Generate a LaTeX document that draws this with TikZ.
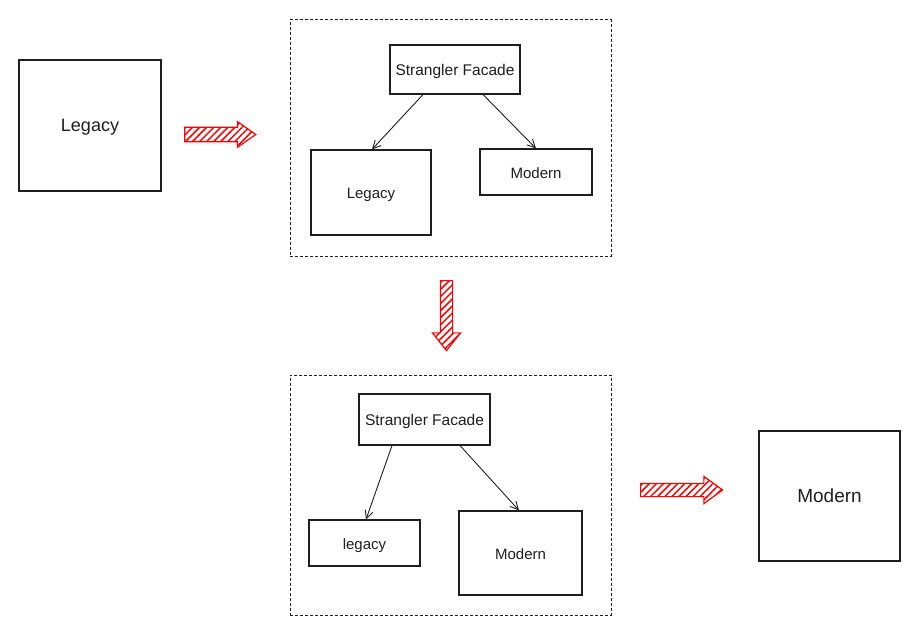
\documentclass[tikz,border=0pt]{standalone}
\usepackage{fontspec}
\setmainfont{Liberation Sans}
\usetikzlibrary{arrows.meta,shapes.arrows,patterns.meta}
\definecolor{ink}{HTML}{1E1E1E}
\begin{document}
\begin{tikzpicture}[x=1pt, y=-1pt,
    box/.style={draw=ink, line width=1.1pt, fill=white, text=ink, inner sep=0pt, text height=2.3ex, text depth=0pt},
    frame/.style={draw=ink, dashed, dash pattern=on 3pt off 2pt, line width=1pt},
    link/.style={draw=ink, line width=0.9pt, -{Straight Barb[length=8pt,width=8pt]}},
    flow/.style={single arrow, anchor=tail, draw=red, line width=1.2pt, inner xsep=0pt,
        pattern={Lines[angle=45,distance=5pt,line width=1.5pt]}, pattern color=red}]
    \useasboundingbox (0,0) rectangle (921,631);

    % first step: the whole legacy system
    \node[box, minimum width=142, minimum height=131, font=\fontsize{18}{21}\selectfont] (legacy) at (90,125.5) {Legacy};
    \node[flow, inner ysep=6.5pt, single arrow head extend=5.5pt, single arrow tip angle=70, minimum height=71] (flowA) at (184,134.5) {};

    % second step: facade in front of both
    \node[frame, minimum width=321, minimum height=236] (frameA) at (450.5,138) {};
    \node[box, minimum width=130, minimum height=49, font=\fontsize{15.5}{18}\selectfont] (sfA) at (455,69.5) {Strangler Facade};
    \node[box, minimum width=120, minimum height=85, font=\fontsize{15}{18}\selectfont] (legA) at (371,192.5) {Legacy};
    \node[box, minimum width=112, minimum height=46, font=\fontsize{15}{18}\selectfont] (modA) at (536,172) {Modern};
    \draw[link] ([xshift=-32pt]sfA.south) -- ([xshift=1pt]legA.north);
    \draw[link] ([xshift=28pt]sfA.south) -- (modA.north);

    \node[flow, rotate=-90, inner ysep=5.5pt, single arrow head extend=8pt, single arrow tip angle=77, minimum height=70] (flowB) at (446.5,280) {};

    % third step: legacy shrinks, modern grows
    \node[frame, minimum width=321, minimum height=240] (frameB) at (450.5,495) {};
    \node[box, minimum width=131, minimum height=51, font=\fontsize{15.5}{18}\selectfont] (sfB) at (424.5,419.5) {Strangler Facade};
    \node[box, minimum width=111, minimum height=46, font=\fontsize{15}{18}\selectfont] (legB) at (364.5,543) {legacy};
    \node[box, minimum width=123, minimum height=84, font=\fontsize{15}{18}\selectfont] (modB) at (520.5,553) {Modern};
    \draw[link] ([xshift=-32.5pt]sfB.south) -- ([xshift=1.5pt]legB.north);
    \draw[link] ([xshift=35.5pt]sfB.south) -- ([xshift=-1.5pt]modB.north);

    \node[flow, inner ysep=6pt, single arrow head extend=7pt, single arrow tip angle=72, minimum height=82] (flowC) at (640,490) {};

    % last step: only the modern system
    \node[box, minimum width=141, minimum height=130, font=\fontsize{19}{22}\selectfont] (modern) at (829.5,496) {Modern};
\end{tikzpicture}
\end{document}
